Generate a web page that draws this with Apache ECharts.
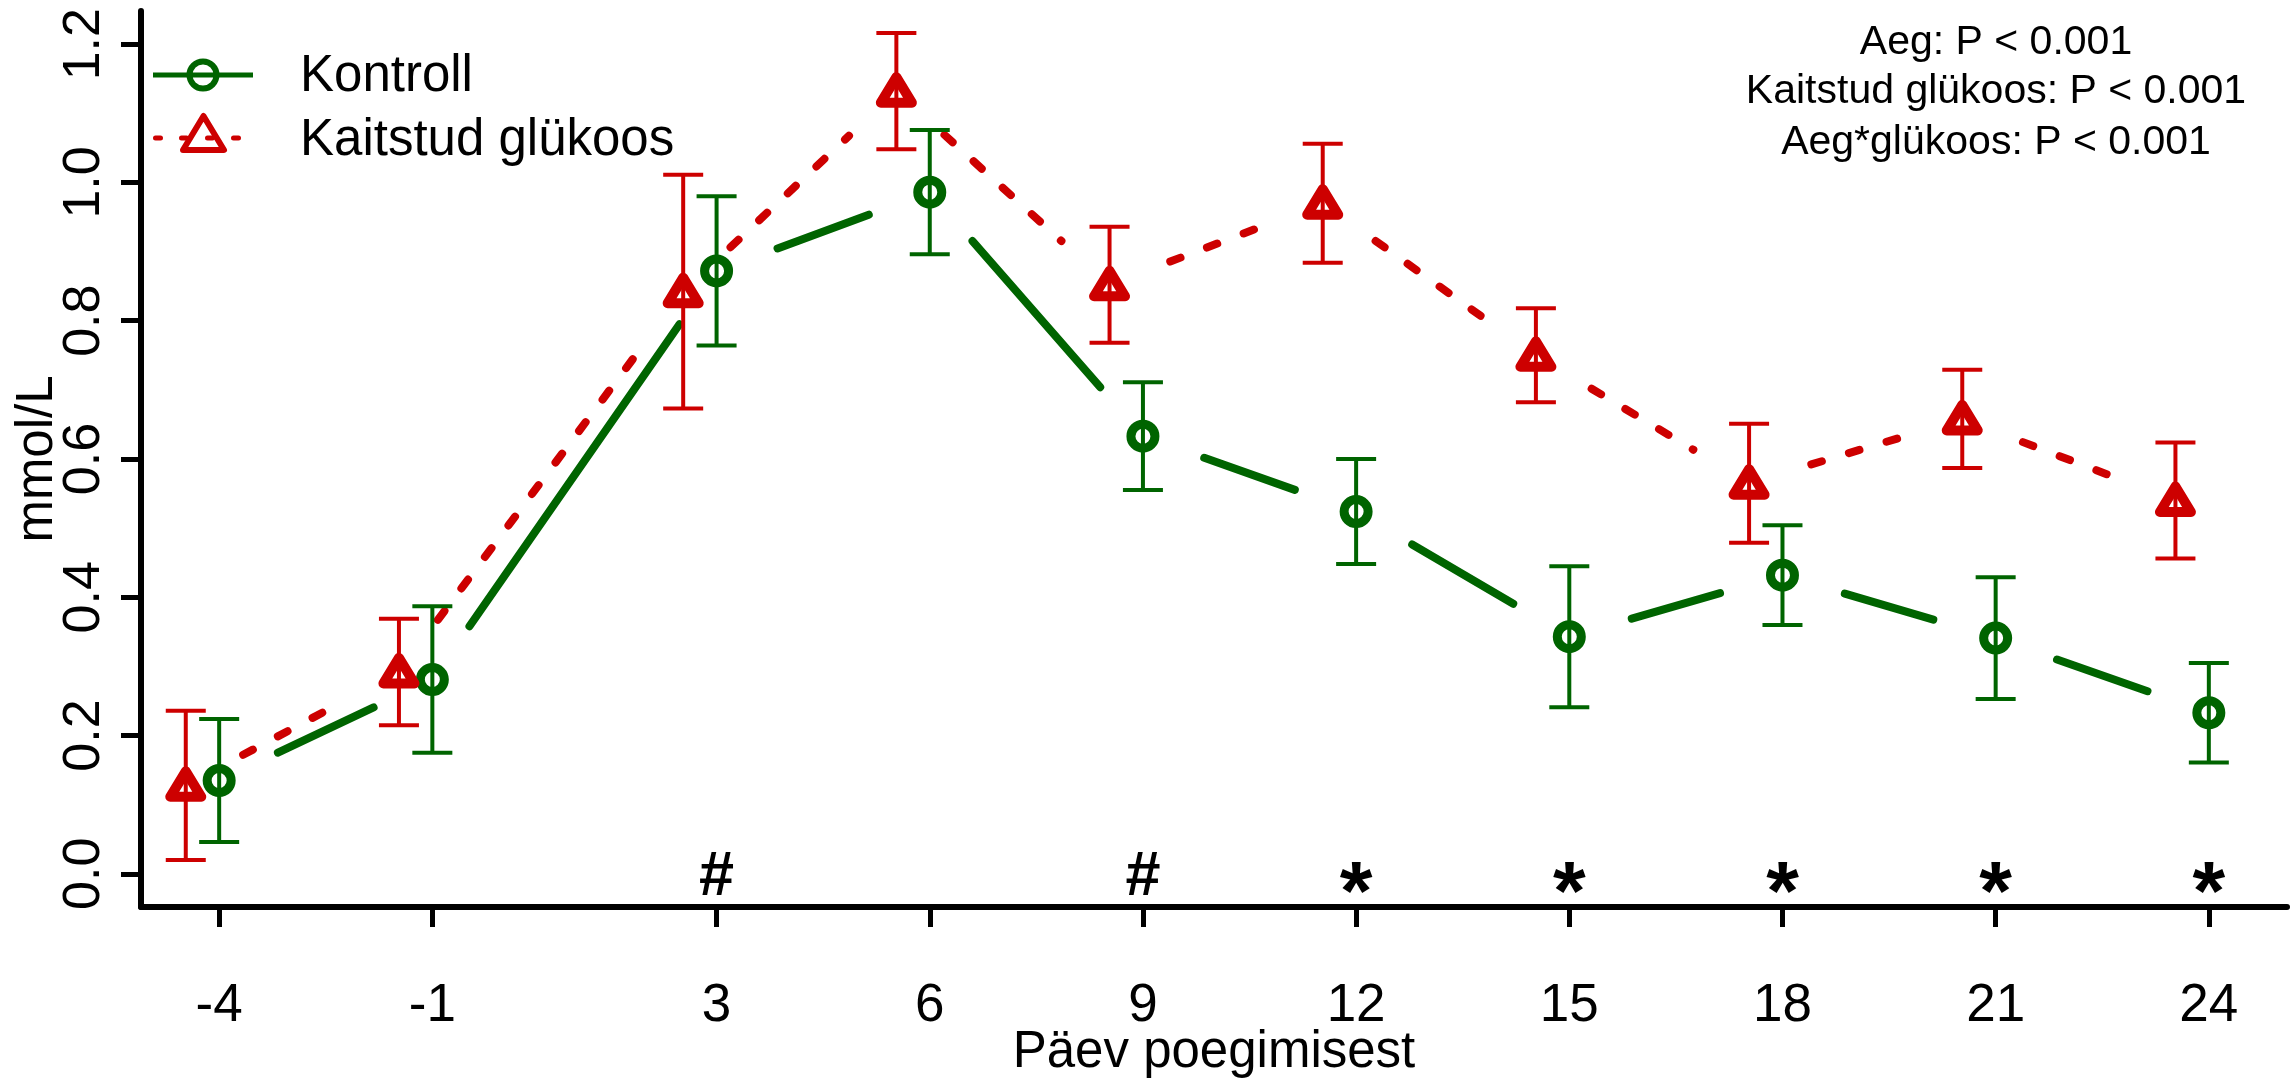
<!DOCTYPE html>
<html>
<head>
<meta charset="utf-8">
<script src="https://cdn.jsdelivr.net/npm/echarts@6/dist/echarts.min.js"></script>
<style>
  html, body { margin: 0; padding: 0; background: #ffffff; }
  #chart { width: 2293px; height: 1084px; }
</style>
</head>
<body>
<div id="chart"></div>
<script>
// Sampling days relative to calving
const days = [-4, -1, 3, 6, 9, 12, 15, 18, 21, 24];
const yTicks = [0, 0.2, 0.4, 0.6, 0.8, 1.0, 1.2];

// Group means and standard errors (mmol/L)
const kontrollMean = [0.135, 0.281, 0.872, 0.986, 0.633, 0.524, 0.343, 0.432, 0.341, 0.233];
const kontrollSE   = [0.089, 0.106, 0.108, 0.090, 0.078, 0.076, 0.102, 0.072, 0.088, 0.072];
const glukoosMean  = [0.128, 0.292, 0.842, 1.132, 0.852, 0.970, 0.750, 0.565, 0.658, 0.540];
const glukoosSE    = [0.108, 0.077, 0.169, 0.084, 0.084, 0.086, 0.068, 0.086, 0.071, 0.084];
const glukoosShift = -0.47;   // dodge so the two groups' bars do not overlap

// Significance marks on the day axis
const sigDays  = [3, 9, 12, 15, 18, 21, 24];
const sigMarks = ['#', '#', '*', '*', '*', '*', '*'];

const seriesNames = ['Kontroll', 'Kaitstud glükoos'];
const statLines = ['Aeg: P < 0.001', 'Kaitstud glükoos: P < 0.001', 'Aeg*glükoos: P < 0.001'];

const GREEN = '#006400';
const RED = '#CD0000';
const FONT = "'Liberation Sans', Arial, sans-serif";
const GAP = 65;   // blank space left around each point on the connecting lines

const kontrollX = days.slice();
const glukoosX = days.map(d => d + glukoosShift);

function points(xs, ys) { return xs.map((x, i) => [x, ys[i]]); }
function segments(xs, ys) {
  const out = [];
  for (let i = 0; i < xs.length - 1; i++) out.push([xs[i], ys[i], xs[i + 1], ys[i + 1]]);
  return out;
}
function bars(xs, m, se) { return xs.map((x, i) => [x, m[i] - se[i], m[i] + se[i]]); }

function gappedLine(color, dash) {
  return function (params, api) {
    const a = api.coord([api.value(0), api.value(1)]);
    const b = api.coord([api.value(2), api.value(3)]);
    const dx = b[0] - a[0], dy = b[1] - a[1];
    const len = Math.hypot(dx, dy);
    if (len <= 2 * GAP) return { type: 'group', children: [] };
    const ux = dx / len, uy = dy / len;
    return {
      type: 'line',
      shape: { x1: a[0] + ux * GAP, y1: a[1] + uy * GAP, x2: b[0] - ux * GAP, y2: b[1] - uy * GAP },
      style: { stroke: color, lineWidth: 8, lineCap: 'round', lineDash: dash }
    };
  };
}

function errorBar(color) {
  return function (params, api) {
    const lo = api.coord([api.value(0), api.value(1)]);
    const hi = api.coord([api.value(0), api.value(2)]);
    const w = 20;
    const st = { stroke: color, lineWidth: 4 };
    return {
      type: 'group',
      children: [
        { type: 'line', shape: { x1: lo[0], y1: lo[1], x2: hi[0], y2: hi[1] }, style: st },
        { type: 'line', shape: { x1: hi[0] - w, y1: hi[1], x2: hi[0] + w, y2: hi[1] }, style: st },
        { type: 'line', shape: { x1: lo[0] - w, y1: lo[1], x2: lo[0] + w, y2: lo[1] }, style: st }
      ]
    };
  };
}

function circleMark(params, api) {
  const p = api.coord([api.value(0), api.value(1)]);
  return {
    type: 'circle',
    shape: { cx: p[0], cy: p[1], r: 12 },
    style: { fill: 'none', stroke: GREEN, lineWidth: 9 }
  };
}

function triangleMark(params, api) {
  const p = api.coord([api.value(0), api.value(1)]);
  return {
    type: 'polygon',
    shape: { points: [[p[0], p[1] - 14], [p[0] + 15.5, p[1] + 11.5], [p[0] - 15.5, p[1] + 11.5]] },
    style: { fill: 'none', stroke: RED, lineWidth: 10, lineJoin: 'round' }
  };
}

function sigMark(params, api) {
  const p = api.coord([api.value(0), 0]);
  const mark = sigMarks[params.dataIndex];
  const star = mark === '*';
  return {
    type: 'text',
    x: p[0],
    y: p[1] + (star ? 23 : 4),
    style: {
      text: mark,
      fill: '#000',
      font: star ? 'bold 84px ' + FONT : 'bold 63px ' + FONT,
      align: 'center', textAlign: 'center',
      verticalAlign: 'middle', textVerticalAlign: 'middle'
    }
  };
}

const chart = echarts.init(document.getElementById('chart'), null, { renderer: 'canvas' });

const textBase = { fill: '#000', font: '51px ' + FONT, textVerticalAlign: 'middle', verticalAlign: 'middle' };
const statStyle = { fill: '#000', font: '41px ' + FONT, textAlign: 'center', align: 'center', textVerticalAlign: 'middle', verticalAlign: 'middle' };

chart.setOption({
  animation: false,
  backgroundColor: '#ffffff',
  grid: { left: 141, right: 6, top: 11, bottom: 177, containLabel: false, outerBoundsMode: 'none' },
  xAxis: {
    type: 'value',
    min: -5.1,
    max: 25.1,
    name: 'Päev poegimisest',
    nameLocation: 'middle',
    nameGap: 120,
    nameMoveOverlap: false,
    nameTextStyle: { fontSize: 51, color: '#000', fontFamily: FONT },
    axisLine: { onZero: false, lineStyle: { color: '#000', width: 6 } },
    axisTick: { customValues: days, length: 20, lineStyle: { color: '#000', width: 5 } },
    axisLabel: { customValues: days, margin: 73, fontSize: 53, color: '#000', fontFamily: FONT },
    splitLine: { show: false }
  },
  yAxis: {
    type: 'value',
    min: -0.048,
    max: 1.248,
    name: 'mmol/L',
    nameLocation: 'middle',
    nameRotate: 90,
    nameGap: 78,
    nameMoveOverlap: false,
    nameTextStyle: { fontSize: 51, color: '#000', fontFamily: FONT },
    axisLine: { onZero: false, lineStyle: { color: '#000', width: 6 } },
    axisTick: { customValues: yTicks, length: 20, lineStyle: { color: '#000', width: 5 } },
    axisLabel: {
      customValues: yTicks, rotate: 90, margin: 30, fontSize: 52, color: '#000', fontFamily: FONT,
      formatter: v => v.toFixed(1)
    },
    splitLine: { show: false }
  },
  series: [
    { type: 'custom', name: seriesNames[0], data: segments(kontrollX, kontrollMean), renderItem: gappedLine(GREEN, null), silent: true },
    { type: 'custom', name: seriesNames[1], data: segments(glukoosX, glukoosMean), renderItem: gappedLine(RED, [11, 28.3]), silent: true },
    { type: 'custom', name: seriesNames[0], data: bars(kontrollX, kontrollMean, kontrollSE), renderItem: errorBar(GREEN), silent: true },
    { type: 'custom', name: seriesNames[1], data: bars(glukoosX, glukoosMean, glukoosSE), renderItem: errorBar(RED), silent: true },
    { type: 'custom', name: seriesNames[0], data: points(kontrollX, kontrollMean), renderItem: circleMark, silent: true },
    { type: 'custom', name: seriesNames[1], data: points(glukoosX, glukoosMean), renderItem: triangleMark, silent: true },
    { type: 'custom', name: 'sig', data: sigDays.map(d => [d, 0]), renderItem: sigMark, silent: true }
  ],
  graphic: [
    // legend
    { type: 'line', shape: { x1: 153, y1: 75, x2: 253, y2: 75 }, style: { stroke: GREEN, lineWidth: 5 } },
    { type: 'circle', shape: { cx: 203, cy: 75, r: 13.5 }, style: { fill: 'none', stroke: GREEN, lineWidth: 6 } },
    { type: 'text', x: 300, y: 77, style: Object.assign({ text: seriesNames[0] }, textBase) },
    { type: 'line', shape: { x1: 155.5, y1: 138, x2: 253, y2: 138 }, style: { stroke: RED, lineWidth: 5, lineDash: [5, 21], lineCap: 'round' } },
    { type: 'polygon', shape: { points: [[203.5, 116], [224, 150], [183, 150]] }, style: { fill: 'none', stroke: RED, lineWidth: 6, lineJoin: 'round' } },
    { type: 'text', x: 300, y: 141, style: Object.assign({ text: seriesNames[1] }, textBase) },
    // model statistics
    { type: 'text', x: 1996, y: 43, style: Object.assign({ text: statLines[0] }, statStyle) },
    { type: 'text', x: 1996, y: 92, style: Object.assign({ text: statLines[1] }, statStyle) },
    { type: 'text', x: 1996, y: 143, style: Object.assign({ text: statLines[2] }, statStyle) }
  ]
});
</script>
</body>
</html>
